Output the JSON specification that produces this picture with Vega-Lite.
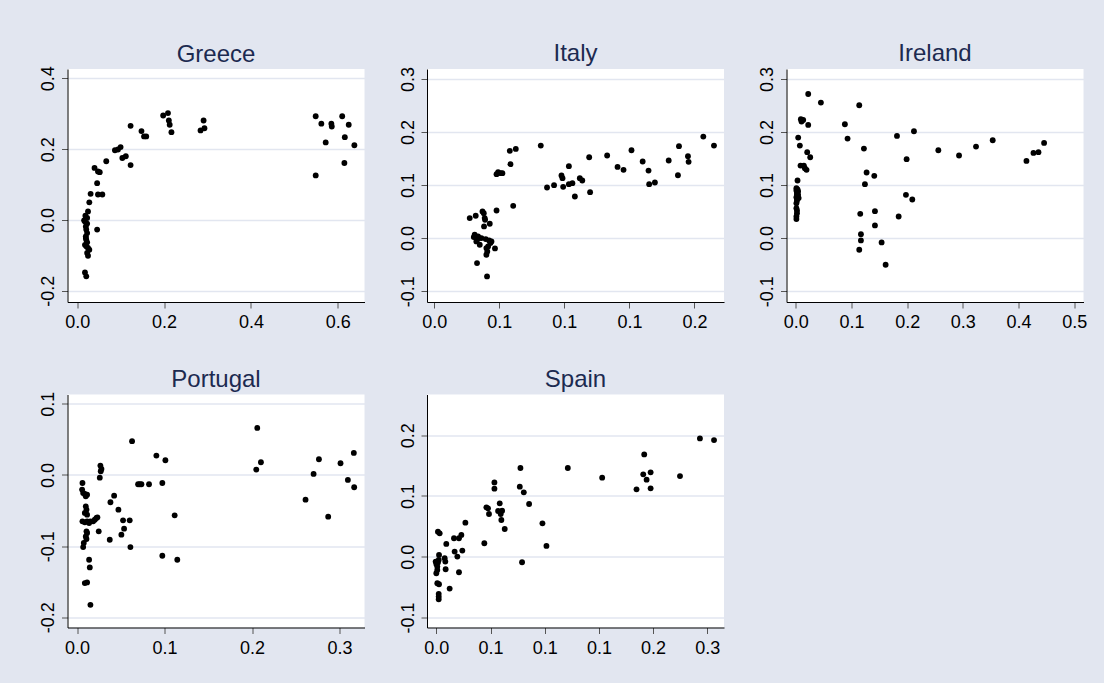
{
  "$schema": "https://vega.github.io/schema/vega-lite/v6.json",
  "autosize": {"type": "pad"},
  "padding": {"left": 39.5, "top": 42, "right": 18, "bottom": 26},
  "background": "#E2E6F0",
  "columns": 3,
  "bounds": "flush",
  "spacing": {"row": 92.5, "column": 62.5},
  "datasets": {
    "greece": [
      {"x":0.016,"y":-0.001},{"x":0.019,"y":0.012},{"x":0.023,"y":0.006},{"x":0.018,"y":-0.004},{"x":0.020,"y":-0.018},{"x":0.021,"y":-0.027},{"x":0.023,"y":-0.037},{"x":0.020,"y":-0.046},{"x":0.018,"y":-0.070},{"x":0.021,"y":-0.074},{"x":0.025,"y":-0.079},{"x":0.028,"y":-0.084},{"x":0.023,"y":-0.093},{"x":0.025,"y":-0.101},{"x":0.020,"y":-0.051},{"x":0.021,"y":-0.056},{"x":0.023,"y":-0.063},{"x":0.018,"y":-0.148},{"x":0.021,"y":-0.159},{"x":0.023,"y":-0.010},{"x":0.025,"y":0.024},{"x":0.028,"y":0.050},{"x":0.031,"y":0.074},{"x":0.046,"y":-0.027},{"x":0.046,"y":0.104},{"x":0.040,"y":0.147},{"x":0.048,"y":0.137},{"x":0.052,"y":0.135},{"x":0.048,"y":0.072},{"x":0.058,"y":0.072},{"x":0.067,"y":0.166},{"x":0.087,"y":0.197},{"x":0.094,"y":0.199},{"x":0.100,"y":0.206},{"x":0.104,"y":0.175},{"x":0.112,"y":0.180},{"x":0.123,"y":0.155},{"x":0.123,"y":0.266},{"x":0.148,"y":0.251},{"x":0.154,"y":0.236},{"x":0.159,"y":0.236},{"x":0.198,"y":0.295},{"x":0.209,"y":0.302},{"x":0.211,"y":0.281},{"x":0.213,"y":0.269},{"x":0.217,"y":0.248},{"x":0.284,"y":0.253},{"x":0.291,"y":0.281},{"x":0.293,"y":0.259},{"x":0.549,"y":0.293},{"x":0.549,"y":0.126},{"x":0.562,"y":0.272},{"x":0.572,"y":0.219},{"x":0.585,"y":0.272},{"x":0.586,"y":0.264},{"x":0.610,"y":0.293},{"x":0.616,"y":0.234},{"x":0.615,"y":0.161},{"x":0.625,"y":0.269},{"x":0.638,"y":0.211}
    ],
    "italy": [
      {"x":0.0273,"y":0.0377},{"x":0.0304,"y":0.0019},{"x":0.0311,"y":0.0063},{"x":0.0319,"y":0.0421},{"x":0.0324,"y":-0.0063},{"x":0.0329,"y":-0.0031},{"x":0.0337,"y":0.0031},{"x":0.0345,"y":0.0},{"x":0.0329,"y":-0.0471},{"x":0.0350,"y":-0.0126},{"x":0.0363,"y":0.0},{"x":0.0371,"y":0.0502},{"x":0.0381,"y":0.0471},{"x":0.0383,"y":0.0220},{"x":0.0388,"y":0.0377},{"x":0.0391,"y":0.0345},{"x":0.0396,"y":-0.0019},{"x":0.0401,"y":-0.0188},{"x":0.0401,"y":-0.0314},{"x":0.0406,"y":-0.0722},{"x":0.0408,"y":-0.0251},{"x":0.0414,"y":-0.0157},{"x":0.0422,"y":-0.0044},{"x":0.0427,"y":0.0270},{"x":0.0432,"y":-0.0094},{"x":0.0440,"y":-0.0063},{"x":0.0467,"y":-0.0195},{"x":0.0479,"y":0.0521},{"x":0.0479,"y":0.1205},{"x":0.0491,"y":0.1243},{"x":0.0511,"y":0.1224},{"x":0.0524,"y":0.1224},{"x":0.0581,"y":0.1645},{"x":0.0586,"y":0.1394},{"x":0.0607,"y":0.0609},{"x":0.0627,"y":0.1682},{"x":0.0819,"y":0.1745},{"x":0.0867,"y":0.0954},{"x":0.0921,"y":0.0998},{"x":0.0978,"y":0.1180},{"x":0.0986,"y":0.1130},{"x":0.0991,"y":0.0967},{"x":0.1035,"y":0.1017},{"x":0.1035,"y":0.1356},{"x":0.1062,"y":0.1036},{"x":0.1081,"y":0.0785},{"x":0.1119,"y":0.1130},{"x":0.1138,"y":0.1086},{"x":0.1191,"y":0.1525},{"x":0.1198,"y":0.0866},{"x":0.1329,"y":0.1557},{"x":0.1409,"y":0.1343},{"x":0.1455,"y":0.1287},{"x":0.1516,"y":0.1657},{"x":0.1602,"y":0.1444},{"x":0.1647,"y":0.1274},{"x":0.1652,"y":0.1017},{"x":0.1696,"y":0.1048},{"x":0.1802,"y":0.1463},{"x":0.1873,"y":0.1186},{"x":0.1881,"y":0.1733},{"x":0.1950,"y":0.1544},{"x":0.1955,"y":0.1438},{"x":0.2068,"y":0.1915},{"x":0.2150,"y":0.1745}
    ],
    "ireland": [
      {"x":0.001,"y":0.094},{"x":0.001,"y":0.0898},{"x":0.002,"y":0.086},{"x":0.002,"y":0.0829},{"x":0.003,"y":0.0797},{"x":0.001,"y":0.0772},{"x":0.002,"y":0.0741},{"x":0.002,"y":0.0703},{"x":0.001,"y":0.0659},{"x":0.001,"y":0.0565},{"x":0.002,"y":0.0521},{"x":0.002,"y":0.0471},{"x":0.001,"y":0.0408},{"x":0.001,"y":0.0358},{"x":0.003,"y":0.0918},{"x":0.004,"y":0.0879},{"x":0.004,"y":0.0816},{"x":0.005,"y":0.0754},{"x":0.003,"y":0.1086},
      {"x":0.0042,"y":0.1896},{"x":0.0072,"y":0.1745},{"x":0.0084,"y":0.1368},{"x":0.0090,"y":0.2241},{"x":0.0102,"y":0.2197},{"x":0.0132,"y":0.2229},{"x":0.0144,"y":0.1368},{"x":0.0162,"y":0.1318},{"x":0.0192,"y":0.1287},{"x":0.0204,"y":0.1620},{"x":0.0222,"y":0.2134},{"x":0.0222,"y":0.2718},{"x":0.0258,"y":0.1525},{"x":0.0450,"y":0.2555},{"x":0.0881,"y":0.2147},{"x":0.0929,"y":0.1877},{"x":0.1139,"y":0.2505},{"x":0.1223,"y":0.1689},{"x":0.1271,"y":0.1237},{"x":0.1241,"y":0.1017},{"x":0.1157,"y":0.0458},{"x":0.1169,"y":0.0075},{"x":0.1169,"y":-0.0044},{"x":0.1139,"y":-0.0220},{"x":0.1409,"y":0.1174},{"x":0.1421,"y":0.0508},{"x":0.1421,"y":0.0239},{"x":0.1541,"y":-0.0082},{"x":0.1613,"y":-0.0502},{"x":0.1817,"y":0.1927},{"x":0.1847,"y":0.0408},{"x":0.1990,"y":0.1488},{"x":0.1978,"y":0.0816},{"x":0.2092,"y":0.0728},{"x":0.2122,"y":0.2015},{"x":0.2560,"y":0.1657},{"x":0.2932,"y":0.1557},{"x":0.3237,"y":0.1726},{"x":0.3537,"y":0.1846},{"x":0.4143,"y":0.1456},{"x":0.4269,"y":0.1607},{"x":0.4359,"y":0.1620},{"x":0.4460,"y":0.1795}
    ],
    "portugal": [
      {"x":0.0061,"y":-0.0113},{"x":0.0057,"y":-0.0206},{"x":0.0069,"y":-0.0253},{"x":0.0088,"y":-0.0267},{"x":0.0099,"y":-0.0300},{"x":0.0114,"y":-0.0277},{"x":0.0099,"y":-0.0441},{"x":0.0107,"y":-0.0488},{"x":0.0088,"y":-0.0534},{"x":0.0114,"y":-0.0558},{"x":0.0061,"y":-0.0652},{"x":0.0088,"y":-0.0666},{"x":0.0114,"y":-0.0652},{"x":0.0137,"y":-0.0675},{"x":0.0152,"y":-0.0652},{"x":0.0107,"y":-0.0792},{"x":0.0114,"y":-0.0816},{"x":0.0099,"y":-0.0863},{"x":0.0076,"y":-0.0956},{"x":0.0069,"y":-0.1013},{"x":0.0107,"y":-0.0900},{"x":0.0088,"y":-0.1519},{"x":0.0114,"y":-0.1510},{"x":0.0137,"y":-0.1191},{"x":0.0145,"y":-0.1299},{"x":0.0152,"y":-0.1824},{"x":0.0183,"y":-0.0652},{"x":0.0202,"y":-0.0628},{"x":0.0221,"y":-0.0605},{"x":0.0232,"y":-0.0595},{"x":0.0247,"y":-0.0792},{"x":0.0259,"y":-0.0038},{"x":0.0266,"y":0.0131},{"x":0.0270,"y":0.0052},{"x":0.0278,"y":0.0084},{"x":0.0373,"y":-0.0910},{"x":0.0381,"y":-0.0384},{"x":0.0423,"y":-0.0291},{"x":0.0472,"y":-0.0488},{"x":0.0506,"y":-0.0839},{"x":0.0525,"y":-0.0638},{"x":0.0537,"y":-0.0755},{"x":0.0601,"y":-0.0638},{"x":0.0609,"y":-0.1013},{"x":0.0628,"y":0.0474},{"x":0.0697,"y":-0.0131},{"x":0.0716,"y":-0.0131},{"x":0.0735,"y":-0.0131},{"x":0.0822,"y":-0.0131},{"x":0.0906,"y":0.0272},{"x":0.0974,"y":-0.0113},{"x":0.0974,"y":-0.1135},{"x":0.1009,"y":0.0206},{"x":0.1115,"y":-0.0567},{"x":0.1145,"y":-0.1191},{"x":0.2048,"y":0.0075},{"x":0.2059,"y":0.0661},{"x":0.2101,"y":0.0178},{"x":0.2611,"y":-0.0347},{"x":0.2703,"y":0.0014},{"x":0.2764,"y":0.0220},{"x":0.2870,"y":-0.0586},{"x":0.3011,"y":0.0164},{"x":0.3095,"y":-0.0070},{"x":0.3163,"y":0.0309},{"x":0.3167,"y":-0.0173}
    ],
    "spain": [
      {"x":-0.0006,"y":-0.0079},{"x":0.0,"y":-0.0118},{"x":0.0009,"y":-0.0161},{"x":0.0015,"y":-0.0096},{"x":0.0022,"y":-0.0052},{"x":0.0025,"y":0.0030},{"x":0.0009,"y":-0.0216},{"x":0.0,"y":-0.0271},{"x":0.0009,"y":-0.0435},{"x":0.0025,"y":-0.0452},{"x":0.0022,"y":-0.0610},{"x":0.0022,"y":-0.0654},{"x":0.0022,"y":-0.0698},{"x":0.0015,"y":0.0413},{"x":0.0031,"y":0.0386},{"x":0.0077,"y":-0.0025},{"x":0.0083,"y":-0.0079},{"x":0.0086,"y":-0.0205},{"x":0.0092,"y":0.0211},{"x":0.0123,"y":-0.0523},{"x":0.0163,"y":0.0304},{"x":0.0169,"y":0.0085},{"x":0.0194,"y":0.0003},{"x":0.0209,"y":-0.0255},{"x":0.0209,"y":0.0304},{"x":0.0231,"y":0.0359},{"x":0.0240,"y":0.0101},{"x":0.0268,"y":0.0561},{"x":0.0443,"y":0.0222},{"x":0.0462,"y":0.0813},{"x":0.0477,"y":0.0796},{"x":0.0486,"y":0.0703},{"x":0.0536,"y":0.1223},{"x":0.0536,"y":0.1119},{"x":0.0570,"y":0.0753},{"x":0.0585,"y":0.0879},{"x":0.0594,"y":0.0703},{"x":0.0607,"y":0.0758},{"x":0.0600,"y":0.0605},{"x":0.0631,"y":0.0457},{"x":0.0770,"y":0.1152},{"x":0.0776,"y":0.1459},{"x":0.0791,"y":-0.0090},{"x":0.0807,"y":0.1059},{"x":0.0856,"y":0.0868},{"x":0.0979,"y":0.0550},{"x":0.1016,"y":0.0178},{"x":0.1213,"y":0.1459},{"x":0.1530,"y":0.1300},{"x":0.1847,"y":0.1109},{"x":0.1909,"y":0.1355},{"x":0.1918,"y":0.1683},{"x":0.1940,"y":0.1267},{"x":0.1977,"y":0.1388},{"x":0.1977,"y":0.1125},{"x":0.2248,"y":0.1327},{"x":0.2432,"y":0.1946},{"x":0.2562,"y":0.1919}
    ]
  },
  "concat": [
    {
      "title": "Greece",
      "width": 297, "height": 233,
      "data": {"name": "greece"},
      "mark": {"type": "circle", "size": 34, "color": "black", "opacity": 1},
      "encoding": {
        "x": {"field": "x", "type": "quantitative", "scale": {"domain": [-0.0222, 0.6613], "nice": false, "zero": false}, "axis": {"values": [0, 0.2, 0.4, 0.6]}},
        "y": {"field": "y", "type": "quantitative", "scale": {"domain": [-0.2315, 0.4264], "nice": false, "zero": false}, "axis": {"values": [-0.2, 0, 0.2, 0.4]}}
      }
    },
    {
      "title": {"text": "Italy", "offset": 0.5},
      "width": 297, "height": 233,
      "data": {"name": "italy"},
      "mark": {"type": "circle", "size": 34, "color": "black", "opacity": 1},
      "encoding": {
        "x": {"field": "x", "type": "quantitative", "scale": {"domain": [-0.00554, 0.2227], "nice": false, "zero": false}, "axis": {"values": [0, 0.05, 0.1, 0.15, 0.2]}},
        "y": {"field": "y", "type": "quantitative", "scale": {"domain": [-0.1205, 0.3189], "nice": false, "zero": false}, "axis": {"values": [-0.1, 0, 0.1, 0.2, 0.3]}}
      }
    },
    {
      "title": {"text": "Ireland", "offset": 0.5},
      "width": 297, "height": 233,
      "data": {"name": "ireland"},
      "mark": {"type": "circle", "size": 34, "color": "black", "opacity": 1},
      "encoding": {
        "x": {"field": "x", "type": "quantitative", "scale": {"domain": [-0.0168, 0.5168], "nice": false, "zero": false}, "axis": {"values": [0, 0.1, 0.2, 0.3, 0.4, 0.5]}},
        "y": {"field": "y", "type": "quantitative", "scale": {"domain": [-0.1205, 0.3189], "nice": false, "zero": false}, "axis": {"values": [-0.1, 0, 0.1, 0.2, 0.3]}}
      }
    },
    {
      "title": "Portugal",
      "width": 297, "height": 233,
      "data": {"name": "portugal"},
      "mark": {"type": "circle", "size": 34, "color": "black", "opacity": 1},
      "encoding": {
        "x": {"field": "x", "type": "quantitative", "scale": {"domain": [-0.011, 0.3285], "nice": false, "zero": false}, "axis": {"values": [0, 0.1, 0.2, 0.3]}},
        "y": {"field": "y", "type": "quantitative", "scale": {"domain": [-0.2143, 0.113], "nice": false, "zero": false}, "axis": {"values": [-0.2, -0.1, 0, 0.1]}}
      }
    },
    {
      "title": {"text": "Spain", "offset": 2.2},
      "width": 297, "height": 233,
      "data": {"name": "spain"},
      "mark": {"type": "circle", "size": 34, "color": "black", "opacity": 1},
      "encoding": {
        "x": {"field": "x", "type": "quantitative", "scale": {"domain": [-0.0086, 0.2654], "nice": false, "zero": false}, "axis": {"values": [0, 0.05, 0.1, 0.15, 0.2, 0.25]}},
        "y": {"field": "y", "type": "quantitative", "scale": {"domain": [-0.1163, 0.2668], "nice": false, "zero": false}, "axis": {"values": [-0.1, 0, 0.1, 0.2]}}
      }
    }
  ],
  "config": {
    "view": {"fill": "white", "stroke": null},
    "axis": {
      "title": null,
      "domainColor": "#000000",
      "domainWidth": 1,
      "tickColor": "#555555",
      "tickSize": 6,
      "tickWidth": 1,
      "labelFont": "Liberation Sans",
      "labelFontSize": 18,
      "labelColor": "#000000",
      "labelFlush": false,
      "labelOverlap": false,
      "labelExpr": "replace(format(datum.value, '.1f'), '\u2212', '-')"
    },
    "axisX": {"grid": false, "labelPadding": 5.5, "labelBaseline": "top", "labelAlign": "center"},
    "axisY": {"grid": true, "gridColor": "#E2E6F0", "gridWidth": 1.5, "labelAngle": 270, "labelAlign": "center", "labelBaseline": "alphabetic", "labelPadding": 8},
    "title": {"font": "Liberation Sans", "fontSize": 24, "fontWeight": "normal", "color": "#1c2a50", "baseline": "alphabetic", "offset": -1, "frame": "group", "anchor": "middle"}
  }
}
